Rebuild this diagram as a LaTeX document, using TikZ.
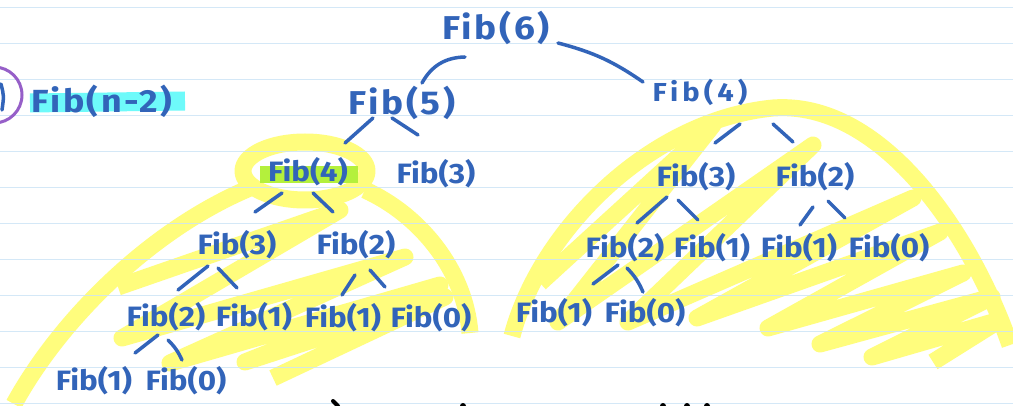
\documentclass[tikz,border=0pt]{standalone}
\usepackage{fontspec}
\newfontfamily\handfont[FakeStretch=1.12, Numbers=Proportional]{Fira Sans}
\usetikzlibrary{calc}
\definecolor{ink}{RGB}{50,100,185}
\definecolor{ruleblue}{RGB}{205,228,246}
\definecolor{hlyellow}{RGB}{255,253,125}
\definecolor{hlcyan}{RGB}{110,250,250}
\definecolor{hlgreen}{RGB}{180,240,60}
\definecolor{penpurple}{RGB}{150,95,200}
\tikzset{
	fib/.style={text=ink, inner sep=0pt, font=\handfont\bfseries\fontsize{28}{28}\selectfont},
	bigfib/.style={fib, font=\handfont\bfseries\fontsize{33}{33}\selectfont\addfontfeatures{LetterSpace=8}},
	widefib/.style={fib, font=\handfont\bfseries\fontsize{26}{26}\selectfont\addfontfeatures{LetterSpace=16}},
	link/.style={draw=ink, line width=3.5pt, line cap=round},
	hl/.style={draw=hlyellow, line width=17pt, line join=round},
	ruling/.style={draw=ruleblue, line width=1.3pt, opacity=0.85},
}
\begin{document}
\begin{tikzpicture}[x=1pt, y=-1pt]
	\useasboundingbox[fill=white] (0,0) rectangle (1013,406);
	
	% highlighter marks
	\draw[hl] (14,404) .. controls (60,320) and (150,230) .. (250,188);
	\draw[hl] (305,171) ellipse [x radius=62, y radius=29];
	\draw[hl] (365,190) .. controls (420,215) and (465,270) .. (470,333);
	\draw[hl] (118,287) -- (340,210) -- (122,338) -- (405,257) -- (170,363) -- (440,285) -- (245,362) -- (445,297) -- (273,378);
	\draw[hl] (512,336) .. controls (540,230) and (650,120) .. (773,108) .. controls (880,100) and (970,230) .. (1010,345);
	\draw[hl] (540,283) -- (713,125) -- (558,322) -- (813,145) -- (628,322) -- (913,198) -- (697,318) -- (940,232) -- (768,328) -- (963,273) -- (820,344) -- (992,297) -- (872,357) -- (1000,320) -- (933,362);
	\draw[draw=hlcyan, line width=19pt] (30,103) -- (185,101);
	\draw[draw=hlgreen, line width=17pt] (260,175) -- (358,175);
	
	\foreach \k in {0,...,11}
		\draw[ruling] (0,7.3+36*\k) -- (1013,7.3+36*\k);
	
	\draw[draw=penpurple, line width=3pt] (-6,95) circle [radius=28];
	\draw[link] (1,84) .. controls (4,96) .. (2,110);
	\node[fib, font=\handfont\bfseries\fontsize{32}{32}\selectfont\addfontfeatures{LetterSpace=8}] (fn) at (102,101) {Fib(n-2)};
	
	% tree
	\node[bigfib] (f6) at (496,28) {Fib(6)};
	\node[bigfib] (f5) at (402,103) {Fib(5)};
	\node[widefib] (f4b) at (700,92) {Fib(4)};
	\node[fib] (f4a) at (308,172) {Fib(4)};
	\node[fib] (f3a) at (436,174) {Fib(3)};
	\node[fib] (f3b) at (237,245) {Fib(3)};
	\node[fib] (f2a) at (356,245) {Fib(2)};
	\node[fib] (f2b) at (166,317) {Fib(2)};
	\node[fib] (f1a) at (254,317) {Fib(1)};
	\node[fib] (f1b) at (343,318) {Fib(1)};
	\node[fib] (f0a) at (431,318) {Fib(0)};
	\node[fib] (f1c) at (94,381) {Fib(1)};
	\node[fib] (f0b) at (186,381) {Fib(0)};
	\node[fib] (f3c) at (696,177) {Fib(3)};
	\node[fib] (f2c) at (815,177) {Fib(2)};
	\node[fib] (f2d) at (625,248) {Fib(2)};
	\node[fib] (f1d) at (712,248) {Fib(1)};
	\node[fib] (f1e) at (799,248) {Fib(1)};
	\node[fib] (f0c) at (889,248) {Fib(0)};
	\node[fib] (f1f) at (554,313) {Fib(1)};
	\node[fib] (f0d) at (645,313) {Fib(0)};
	
	\draw[link] ($(f6)+(-31,29)$) to[bend right=30] ($(f5)+(20,-20)$);
	\draw[link] ($(f6)+(62,15)$) to[bend left=10] ($(f4b)+(-57,-10)$);
	\draw[link] ($(f5)+(-29,15)$) -- ($(f4a)+(37,-29)$);
	\draw[link] ($(f5)+(-10,15)$) -- ($(f3a)+(-18,-39)$);
	\draw[link] ($(f4a)+(-26,21)$) -- ($(f3b)+(18,-33)$);
	\draw[link] ($(f4a)+(5,21)$) -- ($(f2a)+(-23,-33)$);
	\draw[link] ($(f3b)+(-29,21)$) -- ($(f2b)+(12,-27)$);
	\draw[link] ($(f3b)+(-19,23)$) -- ($(f1a)+(-17,-29)$);
	\draw[link] ($(f2a)+(-1,30)$) -- ($(f1b)+(-1,-23)$);
	\draw[link] ($(f2a)+(14,25)$) -- ($(f0a)+(-46,-31)$);
	\draw[link] ($(f2b)+(-8,18)$) -- ($(f1c)+(41,-28)$);
	\draw[link] ($(f2b)+(2,23)$) to[bend left=10] ($(f0b)+(-4,-21)$);
	\draw[link] ($(f4b)+(40,32)$) -- ($(f3c)+(19,-34)$);
	\draw[link] ($(f4b)+(73,32)$) -- ($(f2c)+(-22,-35)$);
	\draw[link] ($(f3c)+(-29,20)$) -- ($(f2d)+(12,-25)$);
	\draw[link] ($(f3c)+(-18,23)$) -- ($(f1d)+(-14,-28)$);
	\draw[link] ($(f2c)+(-2,30)$) -- ($(f1e)+(1,-23)$);
	\draw[link] ($(f2c)+(13,24)$) -- ($(f0c)+(-44,-30)$);
	\draw[link] ($(f2d)+(-7,17)$) -- ($(f1f)+(39,-29)$);
	\draw[link] ($(f2d)+(2,20)$) to[bend left=10] ($(f0d)+(-2,-21)$);
	
	% tops of the next line
	\draw[line width=4pt, line cap=round] (333,401) -- (338,406);
	\foreach \x in {463,663,687,707}
		\fill (\x,406) circle [radius=3];
\end{tikzpicture}
\end{document}
